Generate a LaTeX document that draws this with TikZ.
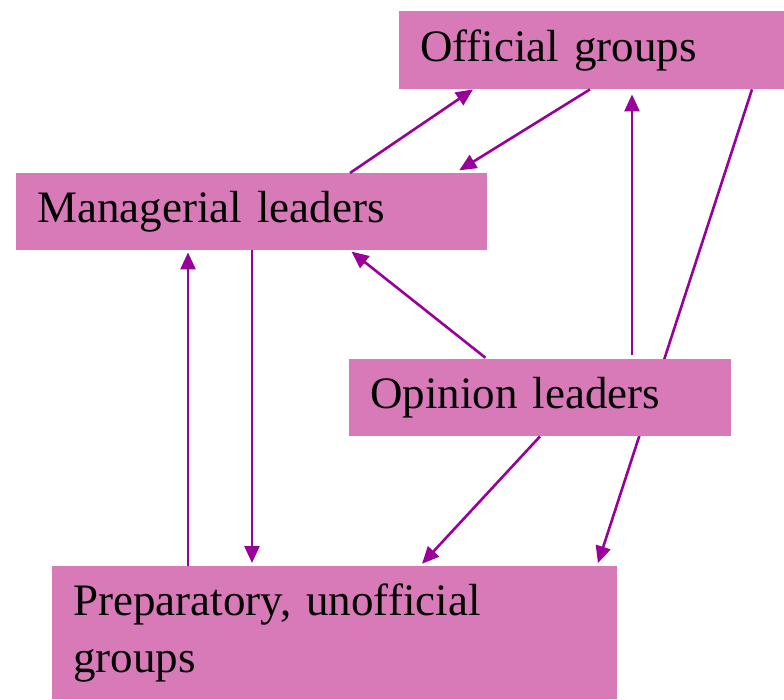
\documentclass[tikz,border=0pt]{standalone}
\usepackage{fontspec}
\setmainfont{Liberation Serif}
\usetikzlibrary{arrows.meta,backgrounds}
\definecolor{boxpink}{RGB}{216,122,184}
\definecolor{linkpurple}{RGB}{153,0,153}
\begin{document}
\begin{tikzpicture}
[x=1pt, y=-1pt,
every node/.style = {shape=rectangle, fill=boxpink, anchor=north west,
	align=left, inner xsep=21pt, inner ysep=0pt,
	font=\fontsize{45}{57}\selectfont},
link/.style = {draw=linkpurple, line width=2.6pt,
	-{Triangle[length=17pt,width=15pt]}}]
 \useasboundingbox (0,0) rectangle (784,699);

  \node (off) [minimum width=385pt, minimum height=78pt, text width=343pt] at (399,11) {Official groups};
  \node (mgr) [minimum width=471pt, minimum height=77pt, text width=429pt] at (16,173) {Managerial leaders};
  \node (opn) [minimum width=382pt, minimum height=77pt, text width=340pt] at (349,359) {Opinion leaders};
  \node (prep) [minimum width=565pt, minimum height=133pt, text width=523pt] at (52,566)
  	{Preparatory, unofficial\\groups};

  % connectors
  \draw [link] ([xshift=334pt]mgr.north west) -- ([xshift=74pt]off.south west);
  \draw [link, shorten >=5pt] ([xshift=191pt]off.south west) -- ([xshift=56pt]mgr.north west -| off.south west);
  \draw [link, shorten <=4pt, shorten >=5pt] ([xshift=283pt]opn.north west) -- ([xshift=233pt]off.south west);
  \begin{pgfonlayer}{background}
  \draw [link, shorten >=3pt] ([xshift=353pt]off.south west) -- ([xshift=545pt]prep.north west);
  \end{pgfonlayer}
  \draw [link, shorten <=2pt, shorten >=2pt] ([xshift=138pt]opn.north west) -- ([xshift=334pt]mgr.south west);
  \draw [link, shorten >=3pt] ([xshift=191pt]opn.south west) -- ([xshift=368pt]prep.north west);
  \draw [link, shorten >=2pt] ([xshift=136pt]prep.north west) -- ([xshift=172pt]mgr.south west);
  \draw [link, shorten >=3pt] ([xshift=236pt]mgr.south west) -- ([xshift=200pt]prep.north west);
\end{tikzpicture}
\end{document}
